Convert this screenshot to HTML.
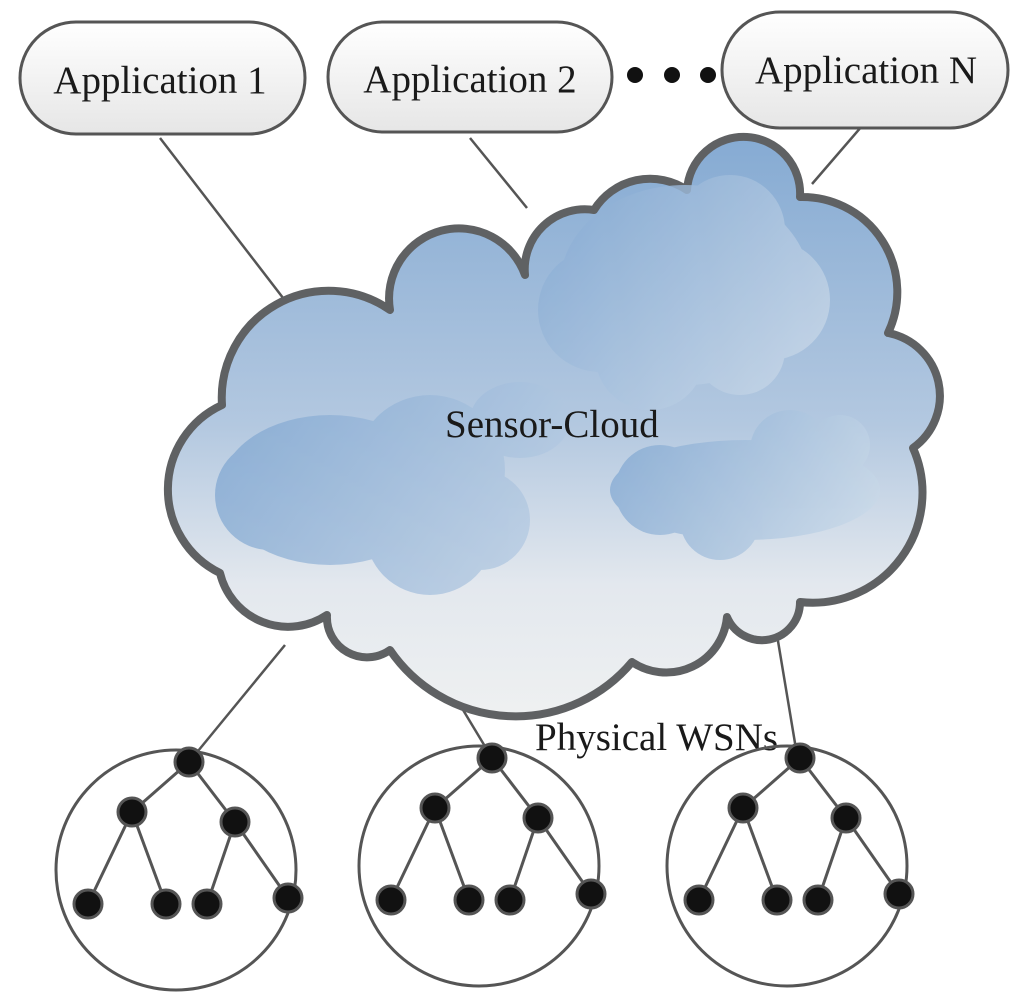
<!DOCTYPE html>
<html><head><meta charset="utf-8"><style>
html,body{margin:0;padding:0;background:#fff;}
svg{display:block;}
text{font-family:"Liberation Serif",serif;fill:#1a1a1a;}
</style></head><body>
<svg width="1024" height="1008" viewBox="0 0 1024 1008" xmlns="http://www.w3.org/2000/svg">
<defs>
<linearGradient id="cg" gradientUnits="userSpaceOnUse" x1="0" y1="140" x2="0" y2="710">
<stop offset="0" stop-color="#86abd3"/>
<stop offset="0.5" stop-color="#b3c8e0"/>
<stop offset="0.78" stop-color="#e3e8ee"/>
<stop offset="1" stop-color="#eef0f1"/>
</linearGradient>
<linearGradient id="ig1" gradientUnits="userSpaceOnUse" x1="540" y1="170" x2="830" y2="400">
<stop offset="0" stop-color="#82a8d2"/>
<stop offset="1" stop-color="#cfdcea"/>
</linearGradient>
<linearGradient id="ig2" gradientUnits="userSpaceOnUse" x1="215" y1="385" x2="530" y2="600">
<stop offset="0" stop-color="#82a8d2"/>
<stop offset="1" stop-color="#bccfe4"/>
</linearGradient>
<linearGradient id="ig3" gradientUnits="userSpaceOnUse" x1="605" y1="405" x2="890" y2="560">
<stop offset="0" stop-color="#82a8d2"/>
<stop offset="1" stop-color="#d2dfeb"/>
</linearGradient>
<linearGradient id="pg" x1="0" y1="0" x2="0" y2="1">
<stop offset="0" stop-color="#ffffff"/>
<stop offset="1" stop-color="#e6e6e6"/>
</linearGradient>
</defs>

<!-- connectors -->
<g stroke="#555" stroke-width="2.5" fill="none">
<line x1="160" y1="138" x2="300" y2="320"/>
<line x1="470" y1="138" x2="527" y2="208"/>
<line x1="862" y1="126" x2="812" y2="184"/>
<line x1="285" y1="645" x2="189" y2="762"/>
<line x1="448" y1="685" x2="492" y2="758"/>
<line x1="772" y1="605" x2="797" y2="755"/>
</g>

<!-- application pills -->
<g stroke="#555" stroke-width="3" fill="url(#pg)">
<rect x="20" y="22" width="285" height="112" rx="56"/>
<rect x="328" y="22" width="284" height="110" rx="55"/>
<rect x="722" y="12" width="286" height="116" rx="58"/>
</g>
<text x="160" y="93" font-size="39" text-anchor="middle">Application 1</text>
<text x="470" y="92" font-size="39" text-anchor="middle">Application 2</text>
<text x="866" y="83" font-size="39" text-anchor="middle">Application N</text>
<circle cx="635" cy="75" r="8" fill="#111"/>
<circle cx="672" cy="75" r="8" fill="#111"/>
<circle cx="708" cy="75" r="8" fill="#111"/>

<!-- cloud -->
<path fill="url(#cg)" stroke="#5f6163" stroke-width="8" stroke-linejoin="round"
d="M222,405 A107,107 0 0 1 390,310 A70,70 0 0 1 525,275 A60,60 0 0 1 594,210 A66,66 0 0 1 687,190 A50,50 0 0 1 800,197 A95,95 0 0 1 888,333 A64,64 0 0 1 913,448 A110,110 0 0 1 800,602 A38,38 0 0 1 727,617 A61,61 0 0 1 632,662 A152,152 0 0 1 390,650 A40,40 0 0 1 327,615 A70,70 0 0 1 220,573 A93,93 0 0 1 222,405 Z"/>

<!-- inner blobs -->
<g fill="url(#ig1)" opacity="0.8">
<ellipse cx="685" cy="285" rx="125" ry="100"/>
<circle cx="600" cy="310" r="62"/>
<circle cx="770" cy="300" r="60"/>
<circle cx="730" cy="230" r="55"/>
<circle cx="650" cy="355" r="55"/>
<circle cx="740" cy="350" r="45"/>
</g>
<g fill="url(#ig2)" opacity="0.85">
<ellipse cx="330" cy="490" rx="110" ry="75"/>
<circle cx="270" cy="495" r="55"/>
<circle cx="430" cy="470" r="75"/>
<circle cx="430" cy="530" r="65"/>
<ellipse cx="520" cy="420" rx="50" ry="38"/>
<circle cx="480" cy="520" r="50"/>
</g>
<g fill="url(#ig3)" opacity="0.85">
<ellipse cx="745" cy="490" rx="135" ry="50"/>
<circle cx="660" cy="490" r="45"/>
<circle cx="790" cy="450" r="40"/>
<circle cx="840" cy="445" r="30"/>
<circle cx="720" cy="520" r="40"/>
</g>

<text x="445" y="437" font-size="39">Sensor-Cloud</text>
<text x="535" y="750" font-size="39">Physical WSNs</text>

<!-- WSN trees -->
<g id="t1">
<circle cx="176" cy="870" r="120" fill="none" stroke="#555" stroke-width="3"/>
<g stroke="#555" stroke-width="3">
<line x1="189" y1="762" x2="132" y2="812"/>
<line x1="189" y1="762" x2="235" y2="822"/>
<line x1="132" y1="812" x2="88" y2="904"/>
<line x1="132" y1="812" x2="166" y2="904"/>
<line x1="235" y1="822" x2="207" y2="904"/>
<line x1="235" y1="822" x2="288" y2="898"/>
</g>
<g fill="#111" stroke="#555" stroke-width="3">
<circle cx="189" cy="762" r="14"/>
<circle cx="132" cy="812" r="14"/>
<circle cx="235" cy="822" r="14"/>
<circle cx="88" cy="904" r="14"/>
<circle cx="166" cy="904" r="14"/>
<circle cx="207" cy="904" r="14"/>
<circle cx="288" cy="898" r="14"/>
</g>
</g>
<use href="#t1" transform="translate(303,-4)"/>
<use href="#t1" transform="translate(611,-4)"/>
</svg>
</body></html>
